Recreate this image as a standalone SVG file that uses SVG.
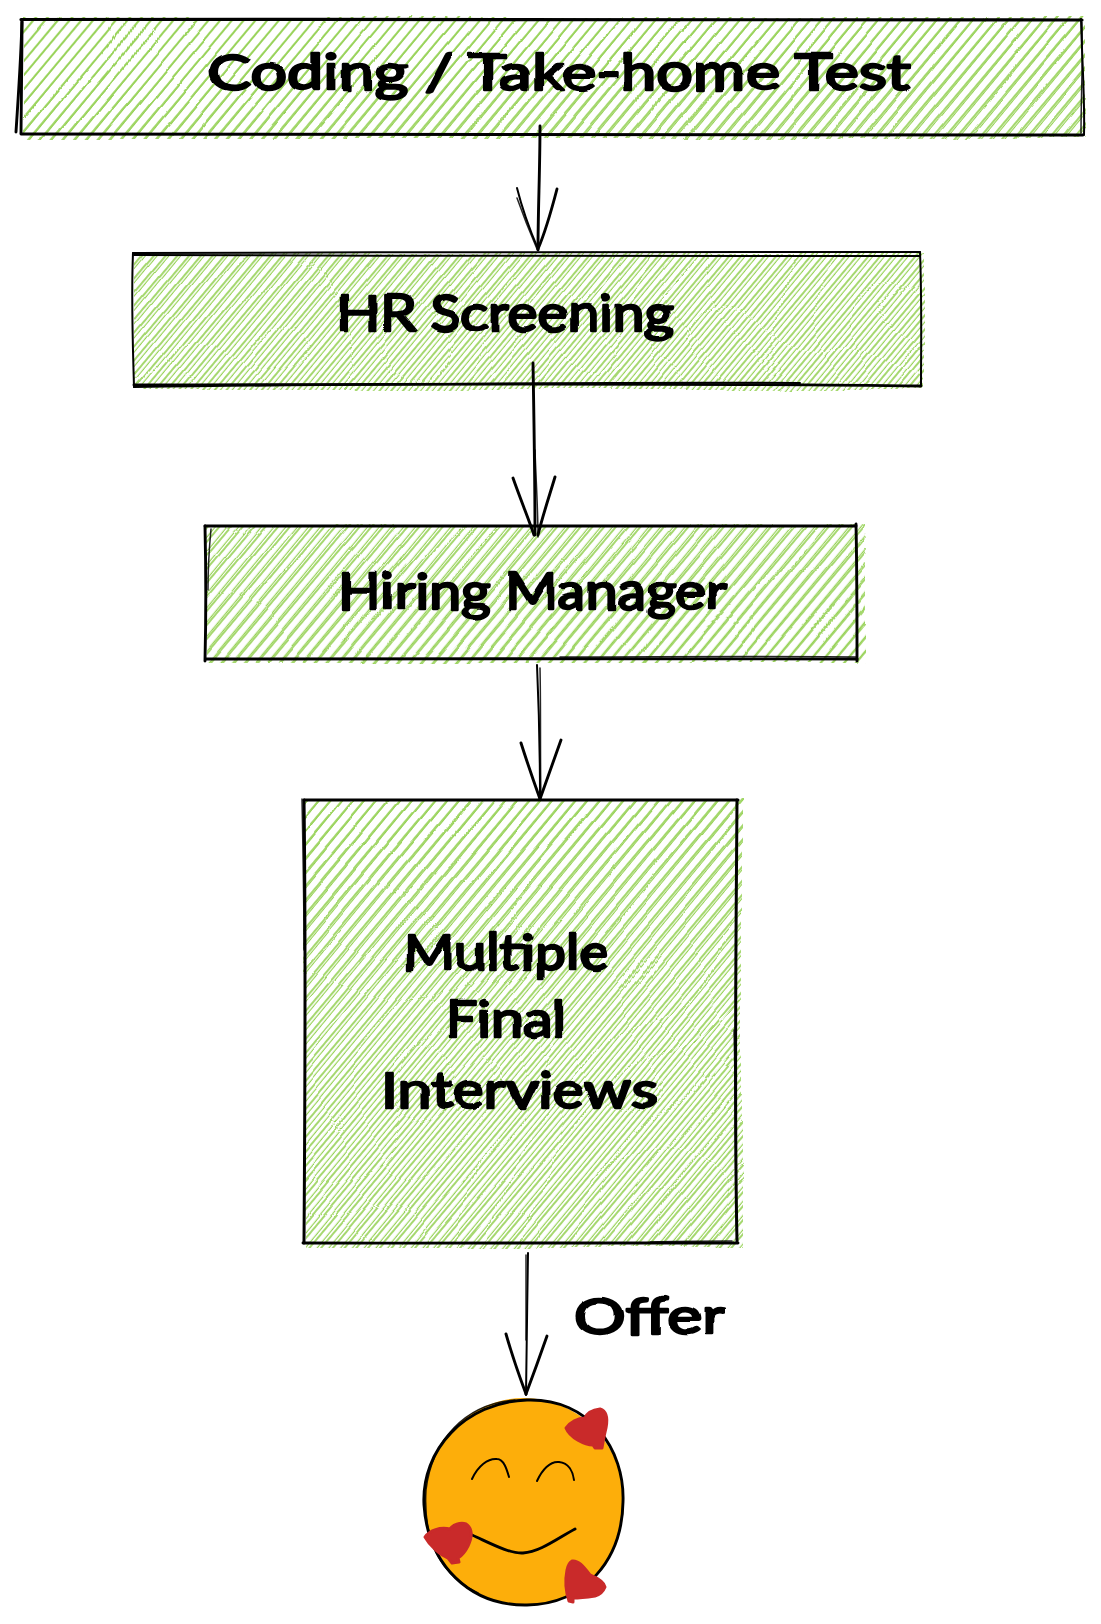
<svg xmlns="http://www.w3.org/2000/svg" width="1101" height="1624" viewBox="0 0 1101 1624">
<style>
.hatch{stroke:none}
.ink{fill:none;stroke:#000;stroke-width:2.9;stroke-linecap:round;stroke-linejoin:round}
.thin{fill:none;stroke:#000;stroke-width:1.5;stroke-linecap:round;stroke-linejoin:round;opacity:.85}
.label{font-family:"Lato","Open Sans",sans-serif;font-weight:400;font-size:50px;fill:#000;stroke:#000;stroke-width:2.4;stroke-linejoin:round;stroke-linecap:round}
.heart{fill:#c92a2a;stroke:#c92a2a;stroke-width:3;stroke-linejoin:round}
</style>
<defs>
<pattern id="h1" patternUnits="userSpaceOnUse" width="40" height="9" patternTransform="rotate(-50)"><path d="M0 2H40" stroke="#88cb3f" stroke-width="1.3"/></pattern>
<pattern id="h2" patternUnits="userSpaceOnUse" width="40" height="9.08" patternTransform="rotate(-50.5 40 40)"><path d="M0 3H40" stroke="#96d255" stroke-width="1.1"/></pattern>
<filter id="wob" x="-5%" y="-8%" width="110%" height="116%"><feTurbulence type="fractalNoise" baseFrequency="0.025" numOctaves="2" seed="4"/><feDisplacementMap in="SourceGraphic" scale="4" xChannelSelector="R" yChannelSelector="G"/></filter>
<filter id="wobh" x="-2%" y="-5%" width="104%" height="110%"><feTurbulence type="fractalNoise" baseFrequency="0.006" numOctaves="1" seed="9"/><feDisplacementMap in="SourceGraphic" scale="9" xChannelSelector="R" yChannelSelector="G"/></filter>
</defs>

<g id="node-coding">
<g filter="url(#wobh)"><rect class="hatch" x="22" y="17" width="1062" height="122" fill="url(#h1)"/><rect class="hatch" x="22" y="17" width="1062" height="122" fill="url(#h2)"/></g>
<path class="ink" style="stroke-width:3.2" d="M21 19.5C380 19 760 20 1082 20"/>
<path class="ink" d="M21 134C400 133 760 135 1083 135"/>
<path class="ink" d="M22 20C21 60 18 100 16 132"/>
<path class="ink" d="M22 22C22 60 21 100 21 133"/>
<path class="ink" style="stroke-width:2" d="M1081 19C1082 60 1085 100 1084 135"/>
<path class="thin" d="M1082 22C1083 60 1081 100 1081 133"/>
<text class="label" x="208" y="90" textLength="702" lengthAdjust="spacingAndGlyphs" filter="url(#wob)">Coding / Take-home Test</text>
</g>

<g id="node-hr">
<g filter="url(#wobh)"><rect class="hatch" x="134" y="252" width="790" height="138" fill="url(#h1)"/><rect class="hatch" x="134" y="252" width="790" height="138" fill="url(#h2)"/></g>
<path class="ink" style="stroke-width:2" d="M133 253C400 252 700 252 920 252"/>
<path class="ink" style="stroke-width:2" d="M134 255C400 256 700 256 920 256"/>
<path class="ink" style="stroke-width:2" d="M134 387C300 385 600 382 800 383"/>
<path class="ink" d="M134 385C400 384 700 383 921 386"/>
<path class="ink" style="stroke-width:2" d="M133 253C131 300 133 350 134 387"/>
<path class="ink" style="stroke-width:2" d="M920 252C922 300 921 350 921 386"/>
<text class="label" x="337" y="331" textLength="337" lengthAdjust="spacingAndGlyphs" filter="url(#wob)">HR Screening</text>
</g>

<g id="node-hiring">
<g filter="url(#wobh)"><rect class="hatch" x="206" y="525" width="660" height="138" fill="url(#h1)"/><rect class="hatch" x="206" y="525" width="660" height="138" fill="url(#h2)"/></g>
<path class="ink" d="M205 526C400 526 650 526 856 526"/>
<path class="ink" d="M206 659C400 658 650 659 857 659"/>
<path class="thin" d="M560 657C650 657 760 656 857 657"/>
<path class="ink" d="M205 526C206 570 206 620 205 661"/>
<path class="thin" d="M211 529C209 550 208 570 208 590"/>
<path class="ink" d="M856 524C857 570 857 620 857 661"/>
<text class="label" x="338" y="609" textLength="388" lengthAdjust="spacingAndGlyphs" filter="url(#wob)">Hiring Manager</text>
</g>

<g id="node-final">
<g filter="url(#wobh)"><rect class="hatch" x="304" y="800" width="438" height="447" fill="url(#h1)"/><rect class="hatch" x="304" y="800" width="438" height="447" fill="url(#h2)"/></g>
<path class="ink" style="stroke-width:3" d="M304 800C450 800 600 800 738 800"/>
<path class="ink" d="M303 1243C450 1243 600 1244 738 1243"/>
<path class="thin" d="M650 1242C680 1241 710 1241 732 1241"/>
<path class="ink" style="stroke-width:3" d="M304 800C306 950 305 1100 304 1243"/>
<path class="thin" d="M302 799C303 850 304 900 304 950"/>
<path class="ink" style="stroke-width:3" d="M737 800C736 950 734 1100 737 1241"/>
<path class="thin" d="M734 1030C736 1100 735 1180 737 1241"/>
<g filter="url(#wob)">
<text class="label" x="403" y="970" textLength="206" lengthAdjust="spacingAndGlyphs">Multiple</text>
<text class="label" x="445" y="1037" textLength="120" lengthAdjust="spacingAndGlyphs">Final</text>
<text class="label" x="381" y="1108" textLength="277" lengthAdjust="spacingAndGlyphs">Interviews</text>
</g>
</g>

<g id="node-smiley">
<ellipse cx="524" cy="1502" rx="100" ry="104" fill="#fdae0a"/>
<path class="ink" d="M527 1400C590 1398 625 1450 623 1502C622 1560 585 1604 527 1605C470 1606 428 1565 424 1505C421 1450 465 1402 527 1400Z"/>
<path class="thin" d="M515 1400C465 1404 432 1440 426 1490C423 1540 440 1575 478 1593"/>
<path class="ink" d="M472 1535C490 1543 510 1554 523 1553C540 1552 558 1538 575 1529"/>
<path class="ink" style="stroke-width:2" d="M472 1479C478 1466 488 1458 497 1459C504 1459 507 1470 509 1477"/>
<path class="ink" style="stroke-width:2" d="M537 1481C542 1470 550 1461 559 1462C569 1463 573 1472 574 1480"/>
<path class="heart" d="M566 1428C570 1422 578 1418 585 1418C587 1413 592 1410 600 1409C606 1411 608 1418 606 1428C604 1436 603 1442 602 1448L595 1448L593 1445C585 1445 570 1438 566 1428Z"/>
<path class="heart" d="M425 1537C430 1530 440 1527 450 1529C453 1525 460 1522 466 1524C472 1528 473 1536 468 1546C465 1552 461 1556 458 1558L459 1562L452 1563L448 1558C440 1555 430 1546 425 1537Z"/>
<path class="heart" d="M572 1561C578 1560 583 1566 590 1575C597 1578 604 1582 605 1587C603 1592 599 1595 595 1596C588 1597 580 1598 573 1598L573 1602L569 1601C566 1592 565 1580 567 1570C568 1565 570 1562 572 1561Z"/>
</g>

<g id="label-offer">
<text class="label" x="574" y="1334" textLength="151" lengthAdjust="spacingAndGlyphs" filter="url(#wob)">Offer</text>
</g>

<g id="connectors">
<path class="ink" d="M540 126C540 170 538 210 538 250"/>
<path class="ink" style="stroke-width:2" d="M517 188C523 212 532 235 538 249"/>
<path class="thin" d="M517 198C523 215 531 235 537 249"/>
<path class="ink" d="M557 189C551 212 544 235 538 249"/>

<path class="ink" d="M533 363C534 420 535 480 535 535"/>
<path class="thin" d="M535 450C536 480 538 510 538 537"/>
<path class="ink" d="M513 478C520 498 529 520 534 535"/>
<path class="ink" d="M555 477C549 497 542 518 538 535"/>

<path class="ink" style="stroke-width:2" d="M537 665C539 710 540 760 540 799"/>
<path class="thin" d="M540 668C541 710 540 760 541 797"/>
<path class="ink" d="M521 743C528 765 535 785 540 799"/>
<path class="ink" d="M561 740C553 762 546 782 540 799"/>

<path class="ink" style="stroke-width:2" d="M528 1253C527 1300 527 1350 526 1395"/>
<path class="thin" d="M526 1255C526 1290 526 1310 526 1340"/>
<path class="ink" d="M506 1334C512 1355 520 1378 526 1394"/>
<path class="ink" d="M547 1336C540 1356 532 1378 526 1394"/>
</g>
</svg>
